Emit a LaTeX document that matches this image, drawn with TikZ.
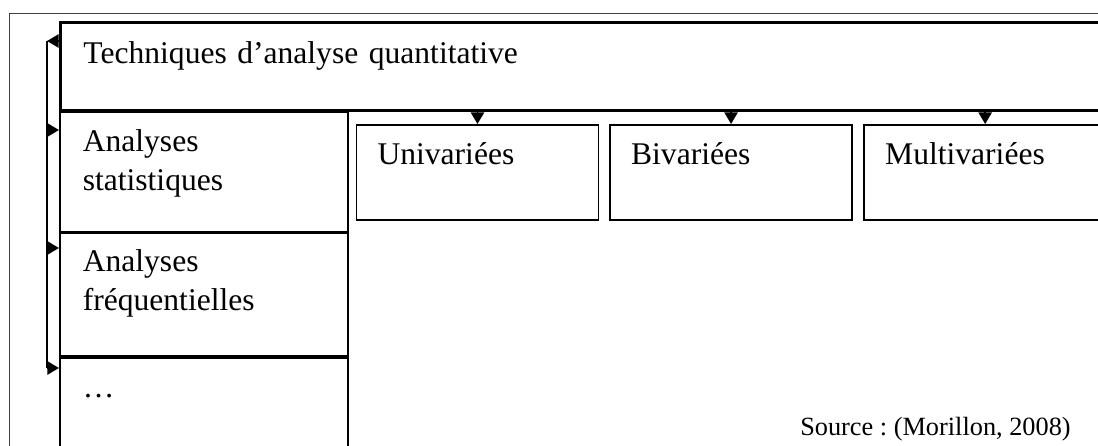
\documentclass[tikz,border=0pt]{standalone}
\usepackage{fontspec}
\setmainfont{Liberation Serif}
\usepackage{tikz}
\usetikzlibrary{arrows.meta, positioning}
\frenchspacing
\tikzset{
  frame/.style={draw=black!75, line width=0.5pt},
  headbox/.style={
    rectangle, draw=black, line width=1.1pt, anchor=north west,
    align=left, inner xsep=8.74pt, inner ysep=0pt,
    font=\fontsize{12}{14.8}\selectfont
  },
  colbox/.style={
    rectangle, draw=black, line width=0.6pt, anchor=north west,
    align=left, text width=91.96pt, inner xsep=8.74pt, inner ysep=0pt,
    font=\fontsize{12}{14.8}\selectfont
  },
  subbox/.style={
    rectangle, draw=black, line width=0.6pt, anchor=north west,
    align=left, text width=75.96pt, inner xsep=8pt, inner ysep=0pt,
    text height=15.2pt, text depth=20.9pt,
    font=\fontsize{12}{14.8}\selectfont
  },
  arrow/.style={-{Triangle[length=4.4pt,width=5pt]}, line width=0.75pt, draw=black}
}

\begin{document}
\begin{tikzpicture}[x=0.38pt, y=-0.38pt]
  \useasboundingbox (0,0) rectangle (1098,446);
  \clip (0,0) rectangle (1098,446);
  \draw[frame] (9.5,13.5) rectangle (1120,470);

  \node[headbox, text width=381.9pt, text height=15.58pt, text depth=17.86pt]
    (title) at (59,21) {Techniques d’analyse quantitative};

  \node[colbox, text height=14.82pt, text depth=30.4pt]
    (stat) at (title.south west) {Analyses\\statistiques};
  \node[colbox, text height=14.7pt, text depth=32.03pt, below=0pt of stat]
    (freq) {Analyses\\fréquentielles};
  \node[colbox, text height=15.2pt, text depth=20.14pt, below=0pt of freq]
    (etc) {…};

  \node[subbox] (uni) at (355.7,124) {Univariées};
  \node[subbox, right=3.8pt of uni] (bi) {Bivariées};
  \node[subbox, right=4pt of bi] (multi) {Multivariées};

  \foreach \n in {uni, bi, multi}
    \draw[arrow] (title.south -| \n.north) -- (\n.north);

  \coordinate (bustop) at (47,41);
  \coordinate (busbot) at (47,368);
  \draw[arrow] (title.west |- bustop) -- (bustop);
  \draw[line width=0.75pt] (bustop) -- (busbot);
  \foreach \n/\y in {stat/130, freq/248, etc/368} {
    \coordinate (tap) at (47,\y);
    \draw[arrow] (tap) -- (\n.west |- tap);
  }

  \node[font=\fontsize{10}{12}\selectfont, anchor=base east]
    (src) at (1080,435) {Source : (Morillon, 2008)};
\end{tikzpicture}
\end{document}
